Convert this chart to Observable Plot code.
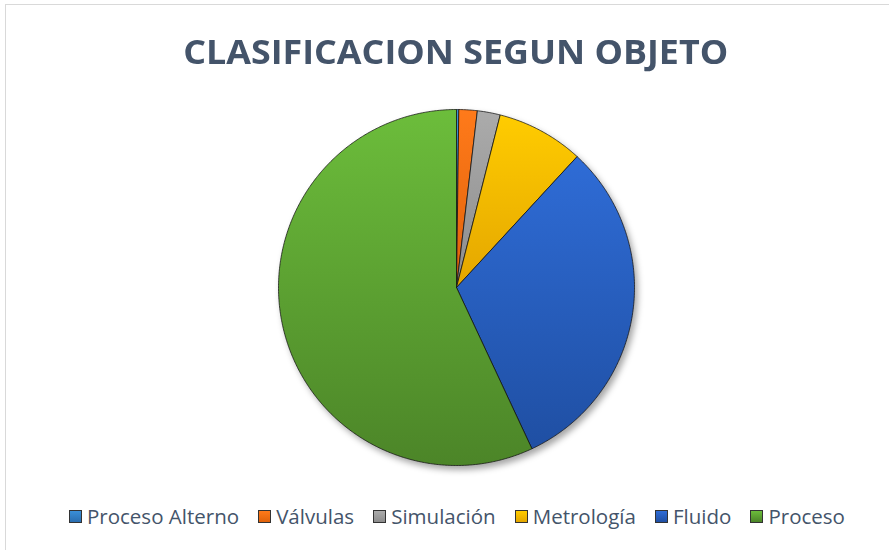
<!DOCTYPE html>
<html>
<head>
<meta charset="utf-8">
<script src="https://cdn.jsdelivr.net/npm/d3@7"></script>
<script src="https://cdn.jsdelivr.net/npm/@observablehq/plot@0.6"></script>
<style>
  html, body { margin: 0; padding: 0; background: #fff; }
  #wrap { position: relative; width: 889px; height: 550px; overflow: hidden; background: #fff; }
  #frame { position: absolute; left: 5px; top: 4px; width: 920px; height: 600px; border: 1px solid #D9D9D9; box-sizing: border-box; }
  #title { position: absolute; left: 11px; top: 27px; width: 889px; text-align: center; font-family: "Open Sans", sans-serif; font-weight: 700; font-size: 34px; color: #44546A; white-space: nowrap; line-height: 48px; }
  #title span { display: inline-block; transform-origin: center; }
  #chart { position: absolute; left: 0; top: 0; }
  #legend { position: absolute; left: 0; top: 501px; display: flex; font-family: "Open Sans", sans-serif; font-size: 20.5px; color: #44546A; white-space: nowrap; line-height: 30px; }
  .item { display: flex; align-items: center; }
  .sw { width: 13px; height: 13px; border: 1px solid #333; margin-right: 5px; box-sizing: border-box; }
</style>
</head>
<body>
<div id="wrap">
  <div id="frame"></div>
  <div id="title"><span>CLASIFICACION SEGUN OBJETO</span></div>
  <div id="chart"></div>
  <div id="legend"></div>
</div>
<script>
const titleText = "CLASIFICACION SEGUN OBJETO";
const categories = ["Proceso Alterno", "Válvulas", "Simulación", "Metrología", "Fluido", "Proceso"];
const values = [1, 8, 10, 38, 150, 274];
const colorsTop = ["#3A8FD8", "#FF7A1A", "#ABABAB", "#FFCC00", "#2F6CD6", "#6CBD3B"];
const colorsBottom = ["#2A6EB0", "#E0620A", "#8C8C8C", "#E4A600", "#1F4FA3", "#4C8528"];

// Build slice polygons in unit-circle data space from the values
const pieData = d3.pie().sort(null).value(d => d)(values);
const slices = pieData.map((p, i) => {
  const pts = [{x: 0, y: 0}];
  const n = Math.max(2, Math.ceil((p.endAngle - p.startAngle) / (Math.PI / 360)));
  for (let k = 0; k <= n; k++) {
    const a = p.startAngle + (p.endAngle - p.startAngle) * k / n;
    pts.push({x: Math.sin(a), y: Math.cos(a)});
  }
  pts.push({x: 0, y: 0});
  return {name: categories[i], pts};
});

const plot = Plot.plot({
  width: 889,
  height: 550,
  margin: 0,
  style: {background: "transparent", overflow: "visible"},
  x: {domain: [-1, 1], range: [278, 634], axis: null},
  y: {domain: [-1, 1], range: [465, 109], axis: null},
  marks: slices.map((s, i) =>
    Plot.line(s.pts, {x: "x", y: "y", fill: `url(#grad${i})`, stroke: "#111", strokeWidth: 0.75, strokeLinejoin: "round", curve: "linear"})
  )
});

// gradients
const ns = "http://www.w3.org/2000/svg";
const defs = document.createElementNS(ns, "defs");
colorsTop.forEach((c, i) => {
  const g = document.createElementNS(ns, "linearGradient");
  g.setAttribute("id", "grad" + i);
  g.setAttribute("x1", "0"); g.setAttribute("y1", "0");
  g.setAttribute("x2", "0"); g.setAttribute("y2", "1");
  const s1 = document.createElementNS(ns, "stop");
  s1.setAttribute("offset", "0"); s1.setAttribute("stop-color", c);
  const s2 = document.createElementNS(ns, "stop");
  s2.setAttribute("offset", "1"); s2.setAttribute("stop-color", colorsBottom[i]);
  g.appendChild(s1); g.appendChild(s2);
  defs.appendChild(g);
});
plot.insertBefore(defs, plot.firstChild);
plot.style.filter = "drop-shadow(3px 4px 3px rgba(0,0,0,0.35))";
document.getElementById("chart").appendChild(plot);

// title fit to width
const tspan = document.querySelector("#title span");
tspan.textContent = titleText;
const tw = tspan.getBoundingClientRect().width;
tspan.style.transform = `scaleX(${545 / tw})`;

// legend
const legend = document.getElementById("legend");
const items = categories.map((c, i) => {
  const it = document.createElement("div");
  it.className = "item";
  const sw = document.createElement("div");
  sw.className = "sw";
  sw.style.background = `linear-gradient(${colorsTop[i]}, ${colorsBottom[i]})`;
  const tx = document.createElement("span");
  tx.textContent = c;
  it.appendChild(sw); it.appendChild(tx);
  legend.appendChild(it);
  return it;
});
// spread legend items across target span 69..845
const natural = legend.getBoundingClientRect().width;
const target = 845 - 69;
const gap = Math.max(6, (target - natural) / (items.length - 1));
items.forEach((it, i) => { if (i > 0) it.style.marginLeft = gap + "px"; });
legend.style.left = 69 + "px";
</script>
</body>
</html>
